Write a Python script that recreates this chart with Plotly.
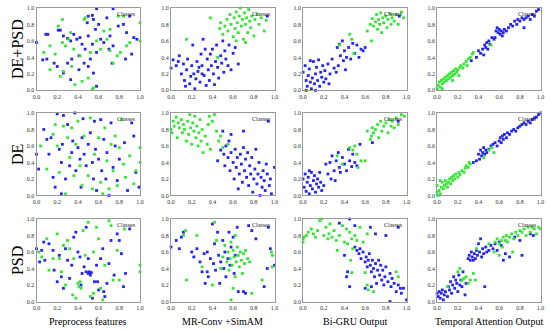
import plotly.graph_objects as go

ROWS = ["DE+PSD", "DE", "PSD"]
COLS = ["Preprocess features", "MR-Conv +SimAM", "Bi-GRU Output", "Temporal Attention Output"]
TICKS = [0.0, 0.2, 0.4, 0.6, 0.8, 1.0]
TICK_LABELS = ["0.0", "0.2", "0.4", "0.6", "0.8", "1.0"]

# ---------- Row 1: DE+PSD ----------
R1C1_BLUE = [(0.58,0.99),(0.74,0.99),(0.0,0.58),(0.09,0.68),(0.11,0.68),(0.06,0.37),(0.10,0.38),(0.17,0.33),(0.2,0.29),(0.21,0.73),(0.23,0.73),(0.26,0.66),(0.3,0.63),(0.33,0.6),(0.36,0.68),(0.39,0.62),(0.42,0.64),(0.44,0.56),(0.49,0.82),(0.5,0.9),(0.54,0.91),(0.55,0.86),(0.57,0.74),(0.6,0.8),(0.62,0.62),(0.65,0.58),(0.68,0.88),(0.71,0.66),(0.74,0.54),(0.79,0.78),(0.84,0.8),(0.87,0.7),(0.9,0.9),(0.94,0.64),(0.97,0.62),(0.92,0.44),(0.86,0.38),(0.73,0.33),(0.7,0.5),(0.58,0.46),(0.52,0.38),(0.46,0.33),(0.41,0.42),(0.34,0.38),(0.3,0.33),(0.26,0.21),(0.33,0.13),(0.41,0.25),(0.5,0.29),(0.55,0.21),(0.58,0.05),(0.47,0.5),(0.54,0.56),(0.5,0.66)]
R1C1_GREEN = [(0.07,0.46),(0.18,0.44),(0.21,0.78),(0.25,0.86),(0.28,0.54),(0.31,0.62),(0.33,0.7),(0.36,0.5),(0.34,0.29),(0.23,0.17),(0.26,0.23),(0.37,0.07),(0.44,0.11),(0.5,0.15),(0.54,0.01),(0.55,0.03),(0.46,0.86),(0.47,0.88),(0.58,0.6),(0.62,0.5),(0.65,0.72),(0.71,0.74),(0.74,0.33),(0.78,0.42),(0.81,0.46),(0.87,0.54),(0.9,0.58),(1.0,0.82),(1.0,0.6),(0.79,0.9),(0.84,0.9),(0.71,0.48),(0.42,0.42),(0.13,0.54),(0.25,0.58),(0.52,0.46),(0.68,0.62),(0.13,0.25)]

R1C2_BLUE = [(0.0,0.27),(0.02,0.37),(0.05,0.3),(0.07,0.35),(0.08,0.42),(0.1,0.2),(0.12,0.32),(0.13,0.12),(0.15,0.25),(0.16,0.38),(0.18,0.08),(0.19,0.17),(0.2,0.3),(0.21,0.55),(0.22,0.2),(0.23,0.02),(0.24,0.14),(0.25,0.35),(0.26,0.23),(0.28,0.1),(0.29,0.44),(0.3,0.3),(0.31,0.62),(0.32,0.18),(0.33,0.5),(0.34,0.06),(0.35,0.38),(0.36,0.25),(0.37,0.12),(0.38,0.44),(0.39,0.3),(0.4,0.5),(0.41,0.2),(0.42,0.07),(0.43,0.35),(0.44,0.55),(0.45,0.28),(0.46,0.15),(0.48,0.42),(0.49,0.33),(0.5,0.6),(0.51,0.22),(0.52,0.48),(0.53,0.38),(0.55,0.3),(0.56,0.55),(0.58,0.25),(0.6,0.45),(0.62,0.52),(0.65,0.32),(0.93,0.9),(0.3,0.2),(0.14,0.05),(0.27,0.28)]
R1C2_GREEN = [(0.15,0.62),(0.38,0.88),(0.45,0.4),(0.47,0.75),(0.48,0.82),(0.5,0.68),(0.52,0.78),(0.54,0.86),(0.55,0.72),(0.57,0.92),(0.58,0.8),(0.6,0.65),(0.61,0.88),(0.62,0.75),(0.63,0.95),(0.64,0.82),(0.65,0.7),(0.66,0.9),(0.67,1.0),(0.68,0.78),(0.69,0.86),(0.7,0.62),(0.71,0.94),(0.72,0.8),(0.73,0.88),(0.74,0.7),(0.75,0.98),(0.76,0.84),(0.77,0.76),(0.78,0.9),(0.8,0.66),(0.81,0.86),(0.83,0.92),(0.85,0.8),(0.87,0.88),(0.9,0.72),(0.92,0.85),(0.72,0.58),(0.63,0.6)]

R1C3_BLUE = [(0.0,0.22),(0.02,0.3),(0.03,0.12),(0.04,0.05),(0.05,0.18),(0.06,0.26),(0.07,0.1),(0.08,0.02),(0.09,0.15),(0.1,0.35),(0.11,0.08),(0.12,0.2),(0.13,0.28),(0.14,0.12),(0.15,0.37),(0.16,0.05),(0.17,0.22),(0.18,0.16),(0.19,0.3),(0.2,0.1),(0.21,0.24),(0.22,0.14),(0.24,0.32),(0.25,0.08),(0.26,0.2),(0.28,0.38),(0.3,0.27),(0.32,0.22),(0.33,0.52),(0.34,0.3),(0.35,0.56),(0.36,0.42),(0.38,0.6),(0.39,0.36),(0.4,0.48),(0.41,0.25),(0.42,0.4),(0.44,0.52),(0.46,0.38),(0.48,0.57),(0.5,0.45),(0.52,0.55),(0.54,0.4),(0.56,0.5),(0.58,0.48),(0.6,0.52),(0.03,0.0),(0.07,0.36),(0.12,0.0),(0.93,0.9)]
R1C3_GREEN = [(0.45,0.68),(0.47,0.62),(0.49,0.45),(0.62,0.72),(0.65,0.8),(0.66,0.6),(0.67,0.87),(0.68,0.78),(0.7,0.83),(0.71,0.92),(0.72,0.74),(0.73,0.86),(0.74,0.8),(0.75,0.94),(0.76,0.7),(0.77,0.88),(0.78,0.82),(0.8,0.9),(0.81,0.76),(0.82,0.86),(0.84,0.93),(0.85,0.8),(0.86,0.88),(0.88,0.84),(0.9,0.92),(0.92,0.8),(0.95,0.95),(0.97,0.88),(0.35,0.55)]

R1C4_BLUE = [(0.33,0.36),(0.38,0.4),(0.4,0.48),(0.42,0.45),(0.44,0.5),(0.45,0.43),(0.46,0.55),(0.47,0.52),(0.48,0.58),(0.49,0.5),(0.5,0.6),(0.51,0.56),(0.53,0.64),(0.55,0.62),(0.57,0.72),(0.58,0.76),(0.59,0.7),(0.6,0.74),(0.61,0.68),(0.62,0.72),(0.63,0.66),(0.64,0.7),(0.65,0.74),(0.67,0.72),(0.69,0.76),(0.71,0.8),(0.73,0.78),(0.75,0.84),(0.77,0.8),(0.78,0.86),(0.8,0.84),(0.82,0.88),(0.84,0.86),(0.86,0.88),(0.88,0.9),(0.9,0.86),(0.92,0.92),(0.94,0.9),(0.96,0.96),(0.98,0.98),(0.84,0.76),(0.56,0.64)]
R1C4_GREEN = [(0.0,0.02),(0.01,0.06),(0.02,0.1),(0.03,0.04),(0.04,0.12),(0.05,0.08),(0.06,0.14),(0.07,0.1),(0.08,0.16),(0.09,0.12),(0.1,0.18),(0.11,0.14),(0.12,0.2),(0.13,0.16),(0.14,0.22),(0.15,0.18),(0.16,0.24),(0.17,0.2),(0.18,0.26),(0.19,0.22),(0.2,0.25),(0.22,0.28),(0.23,0.3),(0.25,0.27),(0.26,0.32),(0.28,0.35),(0.29,0.3),(0.3,0.38),(0.32,0.4),(0.34,0.44),(0.35,0.46),(0.52,0.55),(0.05,0.02),(0.15,0.12),(0.21,0.18)]

# ---------- Row 2: DE ----------
R2C1_BLUE = [(0.0,0.5),(0.07,0.8),(0.1,0.68),(0.12,0.5),(0.16,0.22),(0.18,0.1),(0.2,0.99),(0.22,0.56),(0.24,0.4),(0.25,0.62),(0.26,0.97),(0.28,0.2),(0.3,0.86),(0.32,0.36),(0.34,0.52),(0.35,0.66),(0.37,1.0),(0.38,0.3),(0.4,0.58),(0.42,0.44),(0.43,0.1),(0.44,0.7),(0.45,0.93),(0.46,0.5),(0.48,0.36),(0.5,0.62),(0.52,0.76),(0.54,0.4),(0.55,0.2),(0.57,0.56),(0.58,0.06),(0.6,0.44),(0.62,0.92),(0.63,0.3),(0.65,0.68),(0.67,0.2),(0.68,0.52),(0.7,0.0),(0.72,0.88),(0.74,0.34),(0.76,0.6),(0.78,0.18),(0.8,0.44),(0.85,0.64),(0.88,0.06),(0.92,0.88),(0.94,0.72),(0.96,0.28),(0.99,0.1),(0.02,0.32),(0.24,0.02),(0.14,0.7),(0.56,0.9)]
R2C1_GREEN = [(0.04,0.6),(0.1,0.32),(0.16,0.74),(0.18,0.86),(0.2,0.6),(0.22,0.28),(0.26,0.84),(0.28,0.02),(0.3,0.7),(0.32,0.46),(0.34,0.82),(0.36,0.24),(0.38,0.62),(0.4,0.9),(0.42,0.36),(0.44,0.12),(0.46,0.72),(0.5,0.24),(0.52,0.94),(0.54,0.08),(0.56,0.5),(0.6,0.7),(0.62,0.16),(0.66,0.82),(0.68,0.42),(0.7,0.08),(0.72,0.62),(0.74,0.3),(0.76,0.72),(0.78,0.12),(0.8,0.58),(0.84,0.38),(0.86,0.22),(0.9,0.48),(0.94,0.14),(0.96,0.3),(1.0,0.58),(1.0,0.4),(0.64,0.02),(0.82,0.92)]

R2C2_BLUE = [(0.45,0.42),(0.48,0.55),(0.5,0.78),(0.51,0.5),(0.52,0.36),(0.53,0.6),(0.55,0.46),(0.56,0.66),(0.57,0.3),(0.58,0.52),(0.6,0.4),(0.61,0.2),(0.62,0.56),(0.63,0.34),(0.64,0.46),(0.65,0.08),(0.66,0.26),(0.67,0.5),(0.68,0.38),(0.69,0.16),(0.7,0.58),(0.71,0.3),(0.72,0.44),(0.73,0.22),(0.74,0.52),(0.75,0.12),(0.76,0.36),(0.77,0.26),(0.78,0.46),(0.79,0.04),(0.8,0.2),(0.81,0.32),(0.82,0.56),(0.83,0.14),(0.84,0.26),(0.85,0.4),(0.86,0.0),(0.87,0.22),(0.88,0.1),(0.89,0.3),(0.9,0.18),(0.91,0.06),(0.92,0.38),(0.93,0.26),(0.95,0.12),(0.96,0.2),(0.97,0.02),(1.0,0.34),(0.94,0.9),(0.58,0.74),(0.7,0.78)]
R2C2_GREEN = [(0.0,0.8),(0.01,0.76),(0.02,0.9),(0.03,0.84),(0.05,0.95),(0.06,0.7),(0.07,0.88),(0.08,0.82),(0.1,0.92),(0.11,0.76),(0.12,0.86),(0.13,0.8),(0.15,0.66),(0.16,0.9),(0.17,0.74),(0.18,0.98),(0.19,0.82),(0.2,0.62),(0.21,0.88),(0.22,0.78),(0.23,0.96),(0.24,0.7),(0.25,0.84),(0.26,0.6),(0.27,0.76),(0.28,0.92),(0.29,0.66),(0.3,0.8),(0.31,0.52),(0.33,0.72),(0.35,0.62),(0.36,0.86),(0.37,0.96),(0.38,0.56),(0.4,0.9),(0.42,0.98),(0.44,0.78),(0.46,0.66),(0.5,0.58),(0.55,0.62),(0.48,0.72)]

R2C3_BLUE = [(0.0,0.2),(0.01,0.1),(0.02,0.26),(0.03,0.05),(0.04,0.16),(0.05,0.22),(0.06,0.02),(0.07,0.12),(0.08,0.28),(0.09,0.08),(0.1,0.18),(0.11,0.24),(0.12,0.04),(0.13,0.14),(0.14,0.2),(0.15,0.1),(0.16,0.28),(0.17,0.16),(0.18,0.06),(0.2,0.12),(0.22,0.38),(0.24,0.26),(0.26,0.4),(0.27,0.2),(0.28,0.48),(0.3,0.3),(0.31,0.18),(0.32,0.42),(0.34,0.52),(0.35,0.34),(0.36,0.28),(0.38,0.46),(0.4,0.38),(0.42,0.3),(0.44,0.56),(0.45,0.42),(0.47,0.35),(0.48,0.5),(0.5,0.4),(0.52,0.36),(0.55,0.62),(0.67,0.64),(0.92,0.9),(0.06,0.3)]
R2C3_GREEN = [(0.33,0.48),(0.38,0.38),(0.45,0.58),(0.48,0.55),(0.5,0.6),(0.52,0.5),(0.53,0.34),(0.56,0.42),(0.6,0.42),(0.62,0.78),(0.65,0.68),(0.66,0.72),(0.67,0.82),(0.68,0.76),(0.7,0.8),(0.72,0.86),(0.73,0.7),(0.75,0.9),(0.76,0.78),(0.78,0.84),(0.8,0.88),(0.82,0.76),(0.83,0.92),(0.85,0.84),(0.86,0.9),(0.88,0.82),(0.9,0.94),(0.92,0.86),(0.95,0.98),(0.98,0.96)]

R2C4_BLUE = [(0.35,0.4),(0.4,0.5),(0.41,0.44),(0.42,0.55),(0.43,0.48),(0.44,0.52),(0.45,0.58),(0.46,0.5),(0.47,0.55),(0.48,0.52),(0.5,0.56),(0.52,0.6),(0.54,0.62),(0.56,0.64),(0.58,0.6),(0.6,0.66),(0.61,0.7),(0.62,0.64),(0.63,0.72),(0.64,0.68),(0.65,0.74),(0.67,0.7),(0.68,0.76),(0.7,0.74),(0.72,0.78),(0.74,0.8),(0.76,0.78),(0.78,0.82),(0.8,0.84),(0.82,0.86),(0.84,0.88),(0.86,0.86),(0.88,0.9),(0.9,0.88),(0.92,0.92),(0.94,0.94),(0.96,0.95),(0.98,0.98),(1.0,1.0),(0.38,0.42)]
R2C4_GREEN = [(0.0,0.12),(0.0,0.04),(0.01,0.0),(0.02,0.06),(0.03,0.02),(0.04,0.1),(0.05,0.16),(0.06,0.08),(0.07,0.12),(0.08,0.18),(0.09,0.14),(0.1,0.1),(0.11,0.16),(0.12,0.2),(0.13,0.14),(0.14,0.22),(0.15,0.18),(0.16,0.24),(0.17,0.2),(0.18,0.26),(0.2,0.22),(0.21,0.28),(0.22,0.25),(0.24,0.3),(0.26,0.28),(0.27,0.33),(0.28,0.36),(0.3,0.34),(0.31,0.4),(0.32,0.38),(0.45,0.46),(0.5,0.55),(0.53,0.58),(0.55,0.52),(0.03,0.18)]

# ---------- Row 3: PSD ----------
R3C1_BLUE = [(0.0,0.64),(0.03,0.48),(0.05,0.62),(0.07,0.72),(0.08,0.5),(0.12,0.7),(0.16,0.62),(0.17,0.38),(0.2,0.24),(0.22,0.56),(0.24,0.3),(0.26,0.16),(0.28,0.64),(0.3,0.5),(0.32,0.28),(0.34,0.44),(0.36,0.78),(0.38,0.84),(0.4,0.6),(0.42,0.54),(0.44,0.34),(0.46,0.42),(0.48,0.36),(0.5,0.34),(0.51,0.36),(0.52,0.32),(0.53,0.35),(0.5,0.52),(0.54,0.04),(0.56,0.24),(0.58,0.44),(0.6,0.14),(0.62,0.52),(0.64,0.64),(0.66,0.06),(0.68,0.22),(0.7,0.46),(0.72,0.74),(0.75,0.32),(0.78,0.82),(0.8,0.74),(0.82,0.58),(0.84,0.18),(0.86,0.34),(0.9,0.88),(0.48,0.9),(0.65,0.12),(0.59,0.24),(0.43,0.2)]
R3C1_GREEN = [(0.02,0.6),(0.05,0.54),(0.1,0.76),(0.12,0.38),(0.16,0.52),(0.2,0.82),(0.22,0.52),(0.24,0.36),(0.26,0.68),(0.28,0.2),(0.3,0.74),(0.32,0.64),(0.35,0.08),(0.36,0.52),(0.38,0.04),(0.4,0.22),(0.41,0.18),(0.42,0.24),(0.43,0.16),(0.45,0.86),(0.47,0.56),(0.5,0.96),(0.52,0.06),(0.55,0.6),(0.58,0.9),(0.6,0.76),(0.62,0.16),(0.64,0.02),(0.66,0.44),(0.7,0.98),(0.72,0.92),(0.74,0.26),(0.78,0.62),(0.8,0.26),(0.85,0.88),(1.0,0.36),(1.0,0.44),(0.55,0.1)]

R3C2_BLUE = [(0.0,0.66),(0.05,0.74),(0.08,0.64),(0.1,0.78),(0.12,0.84),(0.2,0.6),(0.22,0.54),(0.25,0.64),(0.28,0.48),(0.3,0.36),(0.32,0.58),(0.33,0.22),(0.35,0.6),(0.36,0.3),(0.38,0.52),(0.4,0.94),(0.41,0.46),(0.42,0.7),(0.43,0.38),(0.45,0.84),(0.46,0.56),(0.47,0.22),(0.48,0.48),(0.5,0.74),(0.51,0.4),(0.52,0.6),(0.53,0.3),(0.55,0.52),(0.56,0.84),(0.57,0.44),(0.58,0.66),(0.6,0.78),(0.61,0.34),(0.62,0.56),(0.64,0.9),(0.65,0.12),(0.7,0.12),(0.72,0.1),(0.75,0.92),(0.78,0.86),(0.82,0.76),(0.9,0.18),(0.93,0.4),(0.96,0.64),(0.94,0.9),(1.0,0.44),(0.35,0.36)]
R3C2_GREEN = [(0.12,0.8),(0.14,0.86),(0.15,0.26),(0.25,0.8),(0.3,0.42),(0.4,0.2),(0.42,0.96),(0.44,0.74),(0.48,0.4),(0.5,0.54),(0.52,0.68),(0.54,0.48),(0.55,0.6),(0.56,0.38),(0.57,0.52),(0.58,0.72),(0.59,0.44),(0.6,0.62),(0.61,0.54),(0.62,0.3),(0.63,0.48),(0.64,0.66),(0.65,0.56),(0.66,0.42),(0.67,0.6),(0.68,0.5),(0.69,0.34),(0.7,0.58),(0.71,0.46),(0.72,0.62),(0.74,0.52),(0.76,0.48),(0.6,0.16),(0.58,0.02),(0.78,0.1),(0.88,0.26),(0.97,0.6),(0.98,0.56),(0.98,0.42),(0.62,0.8)]

R3C3_BLUE = [(0.35,0.95),(0.45,1.0),(0.5,0.92),(0.4,0.56),(0.43,0.36),(0.42,0.3),(0.45,0.18),(0.5,0.66),(0.52,0.62),(0.54,0.58),(0.55,0.64),(0.56,0.52),(0.58,0.6),(0.6,0.48),(0.61,0.54),(0.62,0.42),(0.63,0.5),(0.64,0.58),(0.65,0.44),(0.66,0.36),(0.67,0.5),(0.68,0.4),(0.69,0.3),(0.7,0.46),(0.71,0.22),(0.72,0.38),(0.73,0.5),(0.74,0.32),(0.75,0.44),(0.76,0.26),(0.77,0.38),(0.78,0.2),(0.79,0.3),(0.8,0.42),(0.82,0.24),(0.84,0.34),(0.85,0.18),(0.86,0.28),(0.88,0.22),(0.9,0.12),(0.92,0.2),(0.94,0.16),(0.95,0.1),(0.97,0.16),(1.0,0.02),(0.84,0.0),(0.65,0.9),(0.7,0.82),(0.8,0.8),(0.92,0.9),(0.6,0.16),(0.66,0.18)]
R3C3_GREEN = [(0.0,0.76),(0.0,0.72),(0.01,0.78),(0.03,0.8),(0.05,0.84),(0.08,0.88),(0.1,0.82),(0.12,0.78),(0.14,0.86),(0.16,0.98),(0.18,1.0),(0.2,0.8),(0.22,0.9),(0.24,0.76),(0.25,0.82),(0.26,0.94),(0.28,0.78),(0.3,0.86),(0.32,0.74),(0.33,0.62),(0.35,0.8),(0.38,0.92),(0.4,0.72),(0.42,0.88),(0.43,0.7),(0.45,0.84),(0.46,0.5),(0.47,0.76),(0.48,0.64),(0.5,0.8),(0.52,0.74),(0.55,0.9),(0.58,0.72),(0.47,0.35),(0.6,0.35),(0.62,0.2),(0.63,0.14),(0.68,0.12),(0.9,0.36),(0.92,0.3),(0.62,0.82)]

R3C4_BLUE = [(0.0,0.1),(0.01,0.06),(0.02,0.12),(0.03,0.04),(0.04,0.1),(0.05,0.14),(0.06,0.02),(0.07,0.08),(0.08,0.12),(0.1,0.06),(0.11,0.18),(0.12,0.14),(0.13,0.24),(0.14,0.1),(0.15,0.2),(0.16,0.3),(0.17,0.16),(0.18,0.26),(0.19,0.22),(0.2,0.12),(0.21,0.32),(0.22,0.2),(0.23,0.26),(0.24,0.18),(0.25,0.36),(0.27,0.08),(0.28,0.22),(0.3,0.52),(0.31,0.56),(0.32,0.5),(0.33,0.6),(0.34,0.54),(0.35,0.5),(0.36,0.58),(0.37,0.52),(0.38,0.62),(0.39,0.56),(0.4,0.7),(0.41,0.6),(0.42,0.76),(0.43,0.54),(0.44,0.64),(0.45,0.58),(0.46,0.18),(0.47,0.66),(0.48,0.6),(0.5,0.62),(0.52,0.68),(0.54,0.64),(0.56,0.7),(0.58,0.62),(0.6,0.72),(0.62,0.68),(0.64,0.5),(0.66,0.58),(0.7,0.54),(0.75,0.78),(0.8,0.74),(0.82,0.56),(0.9,0.82),(0.93,0.8)]
R3C4_GREEN = [(0.1,0.18),(0.2,0.36),(0.22,0.4),(0.24,0.26),(0.26,0.28),(0.28,0.3),(0.3,0.22),(0.32,0.26),(0.35,0.34),(0.37,0.26),(0.38,0.64),(0.5,0.7),(0.55,0.6),(0.56,0.72),(0.58,0.76),(0.6,0.7),(0.62,0.74),(0.63,0.66),(0.64,0.78),(0.66,0.74),(0.67,0.8),(0.68,0.72),(0.7,0.78),(0.72,0.82),(0.73,0.6),(0.74,0.76),(0.76,0.84),(0.78,0.8),(0.8,0.86),(0.82,0.84),(0.84,0.88),(0.86,0.8),(0.9,0.84),(0.92,0.9),(0.94,0.88),(0.96,0.82),(0.98,0.9),(1.0,0.88),(0.88,0.9),(0.6,0.56)]

PANELS = [
    [(R1C1_BLUE, R1C1_GREEN), (R1C2_BLUE, R1C2_GREEN), (R1C3_BLUE, R1C3_GREEN), (R1C4_BLUE, R1C4_GREEN)],
    [(R2C1_BLUE, R2C1_GREEN), (R2C2_BLUE, R2C2_GREEN), (R2C3_BLUE, R2C3_GREEN), (R2C4_BLUE, R2C4_GREEN)],
    [(R3C1_BLUE, R3C1_GREEN), (R3C2_BLUE, R3C2_GREEN), (R3C3_BLUE, R3C3_GREEN), (R3C4_BLUE, R3C4_GREEN)],
]

BLUE = "rgb(35,35,245)"
GREEN = "rgb(50,230,50)"
W, H = 550, 332
COL_LEFT = [33, 169.5, 303.5, 439.5]
PW = 105
ROW_TOP = [5, 112, 220]
PH = 84
SERIF = "Liberation Serif, Times New Roman, serif"

fig = go.Figure()
layout = dict(width=W, height=H, margin=dict(l=0, r=0, t=0, b=0),
              paper_bgcolor="white", plot_bgcolor="white", showlegend=False)
annotations = []
k = 0
for r in range(3):
    for c in range(4):
        k += 1
        xa = "x" if k == 1 else f"x{k}"
        ya = "y" if k == 1 else f"y{k}"
        blue, green = PANELS[r][c]
        for pts, col in ((blue, BLUE), (green, GREEN)):
            fig.add_trace(go.Scatter(
                x=[p[0] for p in pts], y=[p[1] for p in pts], mode="markers",
                marker=dict(color=col, size=2.8, symbol="square", line=dict(width=0)),
                xaxis=xa, yaxis=ya, hoverinfo="skip", cliponaxis=False))
        x0 = COL_LEFT[c] / W
        x1 = (COL_LEFT[c] + PW) / W
        y1 = 1 - ROW_TOP[r] / H
        y0 = 1 - (ROW_TOP[r] + PH) / H
        common = dict(range=[0, 1], tickvals=TICKS, ticktext=TICK_LABELS,
                      showgrid=False, zeroline=False, showline=True, mirror=True,
                      linecolor="#9a9a9a", linewidth=1, ticks="",
                      tickfont=dict(family=SERIF, size=6, color="#333"),
                      fixedrange=True)
        layout["xaxis" if k == 1 else f"xaxis{k}"] = dict(
            domain=[x0, x1], anchor=ya, ticklabelstandoff=0, **common)
        layout["yaxis" if k == 1 else f"yaxis{k}"] = dict(
            domain=[y0, y1], anchor=xa, ticklabelstandoff=0, **common)
        annotations.append(dict(
            xref=f"{xa} domain", yref=f"{ya} domain", x=0.985, y=0.985,
            xanchor="right", yanchor="top", showarrow=False,
            text="Classes", font=dict(family=SERIF, size=6, color="#222")))

for r, name in enumerate(ROWS):
    yc = 1 - (ROW_TOP[r] + PH / 2) / H
    annotations.append(dict(xref="paper", yref="paper", x=13 / W, y=yc,
                            xanchor="center", yanchor="middle", showarrow=False,
                            text=name, textangle=-90,
                            font=dict(family=SERIF, size=16, color="black")))
for c, name in enumerate(COLS):
    xc = (COL_LEFT[c] + PW / 2) / W
    annotations.append(dict(xref="paper", yref="paper", x=xc, y=1 - 324 / H,
                            xanchor="center", yanchor="middle", showarrow=False,
                            text=name, font=dict(family=SERIF, size=10, color="black")))
layout["annotations"] = annotations
fig.update_layout(**layout)
fig.write_html("out.html", config={"displayModeBar": False},
               post_script="document.body.style.margin='0';document.body.style.overflow='hidden';")
